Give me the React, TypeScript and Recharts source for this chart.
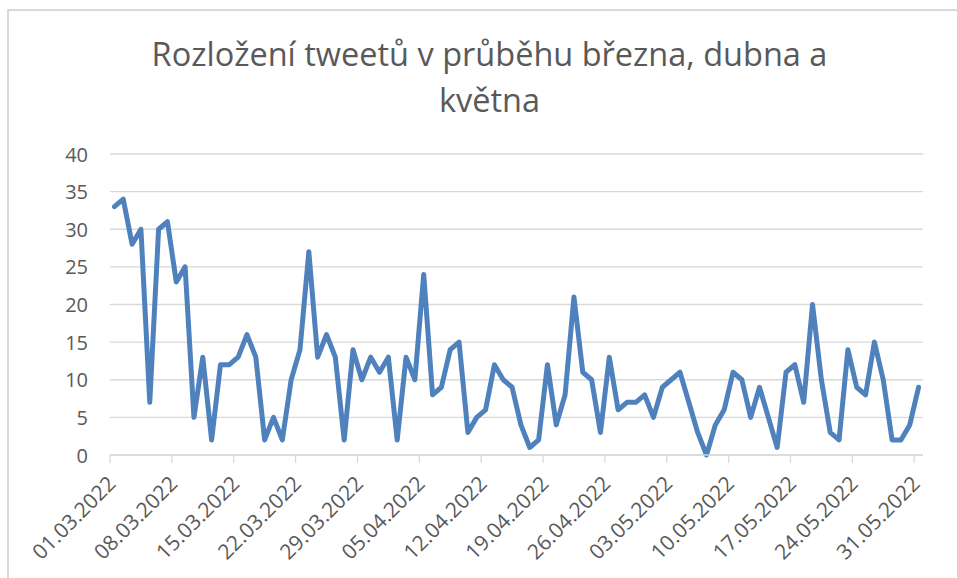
import React from "react";
import { LineChart, Line, XAxis, YAxis, CartesianGrid } from "recharts";

const dates: string[] = [
  "01.03.2022","02.03.2022","03.03.2022","04.03.2022","05.03.2022","06.03.2022","07.03.2022",
  "08.03.2022","09.03.2022","10.03.2022","11.03.2022","12.03.2022","13.03.2022","14.03.2022",
  "15.03.2022","16.03.2022","17.03.2022","18.03.2022","19.03.2022","20.03.2022","21.03.2022",
  "22.03.2022","23.03.2022","24.03.2022","25.03.2022","26.03.2022","27.03.2022","28.03.2022",
  "29.03.2022","30.03.2022","31.03.2022","01.04.2022","02.04.2022","03.04.2022","04.04.2022",
  "05.04.2022","06.04.2022","07.04.2022","08.04.2022","09.04.2022","10.04.2022","11.04.2022",
  "12.04.2022","13.04.2022","14.04.2022","15.04.2022","16.04.2022","17.04.2022","18.04.2022",
  "19.04.2022","20.04.2022","21.04.2022","22.04.2022","23.04.2022","24.04.2022","25.04.2022",
  "26.04.2022","27.04.2022","28.04.2022","29.04.2022","30.04.2022","01.05.2022","02.05.2022",
  "03.05.2022","04.05.2022","05.05.2022","06.05.2022","07.05.2022","08.05.2022","09.05.2022",
  "10.05.2022","11.05.2022","12.05.2022","13.05.2022","14.05.2022","15.05.2022","16.05.2022",
  "17.05.2022","18.05.2022","19.05.2022","20.05.2022","21.05.2022","22.05.2022","23.05.2022",
  "24.05.2022","25.05.2022","26.05.2022","27.05.2022","28.05.2022","29.05.2022","30.05.2022",
  "31.05.2022"
];

const tweets: number[] = [
  33, 34, 28, 30, 7, 30, 31, 23, 25, 5, 13, 2, 12, 12, 13, 16, 13, 2, 5, 2, 10,
  14, 27, 13, 16, 13, 2, 14, 10, 13, 11, 13, 2, 13, 10, 24, 8, 9, 14, 15, 3,
  5, 6, 12, 10, 9, 4, 1, 2, 12, 4, 8, 21, 11, 10, 3, 13, 6, 7, 7, 8,
  5, 9, 10, 11, 7, 3, 0, 4, 6, 11, 10, 5, 9, 5, 1, 11, 12, 7, 20, 10,
  3, 2, 14, 9, 8, 15, 10, 2, 2, 4, 9
];

const xTickLabels: string[] = [
  "01.03.2022","08.03.2022","15.03.2022","22.03.2022","29.03.2022","05.04.2022","12.04.2022",
  "19.04.2022","26.04.2022","03.05.2022","10.05.2022","17.05.2022","24.05.2022","31.05.2022"
];

const yTicks: number[] = [0, 5, 10, 15, 20, 25, 30, 35, 40];

const titleLines: string[] = ["Rozložení tweetů v průběhu března, dubna a", "května"];

const data = dates.map((d, i) => ({ idx: i, date: d, tweets: tweets[i] }));
const xTicks = xTickLabels.map((l) => dates.indexOf(l) - 0.5);

const FONT = "'Open Sans', sans-serif";
const TEXT = "#595959";
const GRID = "#d9d9d9";

const XTick = (props: any) => {
  const { x, payload } = props;
  const label = dates[Math.round(payload.value + 0.5)];
  const px = x + 7;
  const py = 485;
  return (
    <text
      x={px}
      y={py}
      textAnchor="end"
      fill={TEXT}
      fontSize={21}
      fontFamily={FONT}
      transform={`rotate(-45, ${px}, ${py})`}
    >
      {label}
    </text>
  );
};

const YTick = (props: any) => {
  const { y, payload } = props;
  return (
    <text x={88} y={y + 7.5} textAnchor="end" fill={TEXT} fontSize={20} fontFamily={FONT}>
      {payload.value}
    </text>
  );
};

export default function App() {
  return (
    <div style={{ position: "relative", width: 957, height: 578, overflow: "hidden", background: "#fff" }}>
      <style>{`html,body{margin:0;padding:0;overflow:hidden;}`}</style>
      <div
        style={{
          position: "absolute",
          left: 7,
          top: 9,
          width: 950,
          height: 569,
          borderTop: `2px solid ${GRID}`,
          borderLeft: `2px solid ${GRID}`,
          boxSizing: "border-box",
          pointerEvents: "none",
        }}
      />
      <div
        style={{
          position: "absolute",
          left: 0,
          width: 979,
          top: 31,
          textAlign: "center",
          fontFamily: FONT,
          fontSize: 32.5,
          lineHeight: "46px",
          color: TEXT,
        }}
      >
        {titleLines.map((t, i) => (
          <div key={i}>{t}</div>
        ))}
      </div>
      <div style={{ position: "absolute", left: 0, top: 0 }}>
        <LineChart
          width={957}
          height={578}
          data={data}
          margin={{ top: 154, right: 34, bottom: 23, left: 50 }}
        >
          <CartesianGrid vertical={false} stroke={GRID} strokeWidth={1.3} />
          <XAxis
            type="number"
            dataKey="idx"
            domain={[-0.5, 91.5]}
            ticks={xTicks}
            interval={0}
            height={100}
            axisLine={{ stroke: GRID, strokeWidth: 1.3 }}
            tickLine={{ stroke: GRID, strokeWidth: 1.3 }}
            tickSize={8}
            tick={<XTick />}
          />
          <YAxis
            type="number"
            domain={[0, 40]}
            ticks={yTicks}
            width={60}
            axisLine={false}
            tickLine={false}
            tick={<YTick />}
          />
          <Line
            type="linear"
            dataKey="tweets"
            stroke="#4f81bd"
            strokeWidth={5}
            strokeLinejoin="round"
            strokeLinecap="round"
            dot={false}
            isAnimationActive={false}
          />
        </LineChart>
      </div>
    </div>
  );
}
